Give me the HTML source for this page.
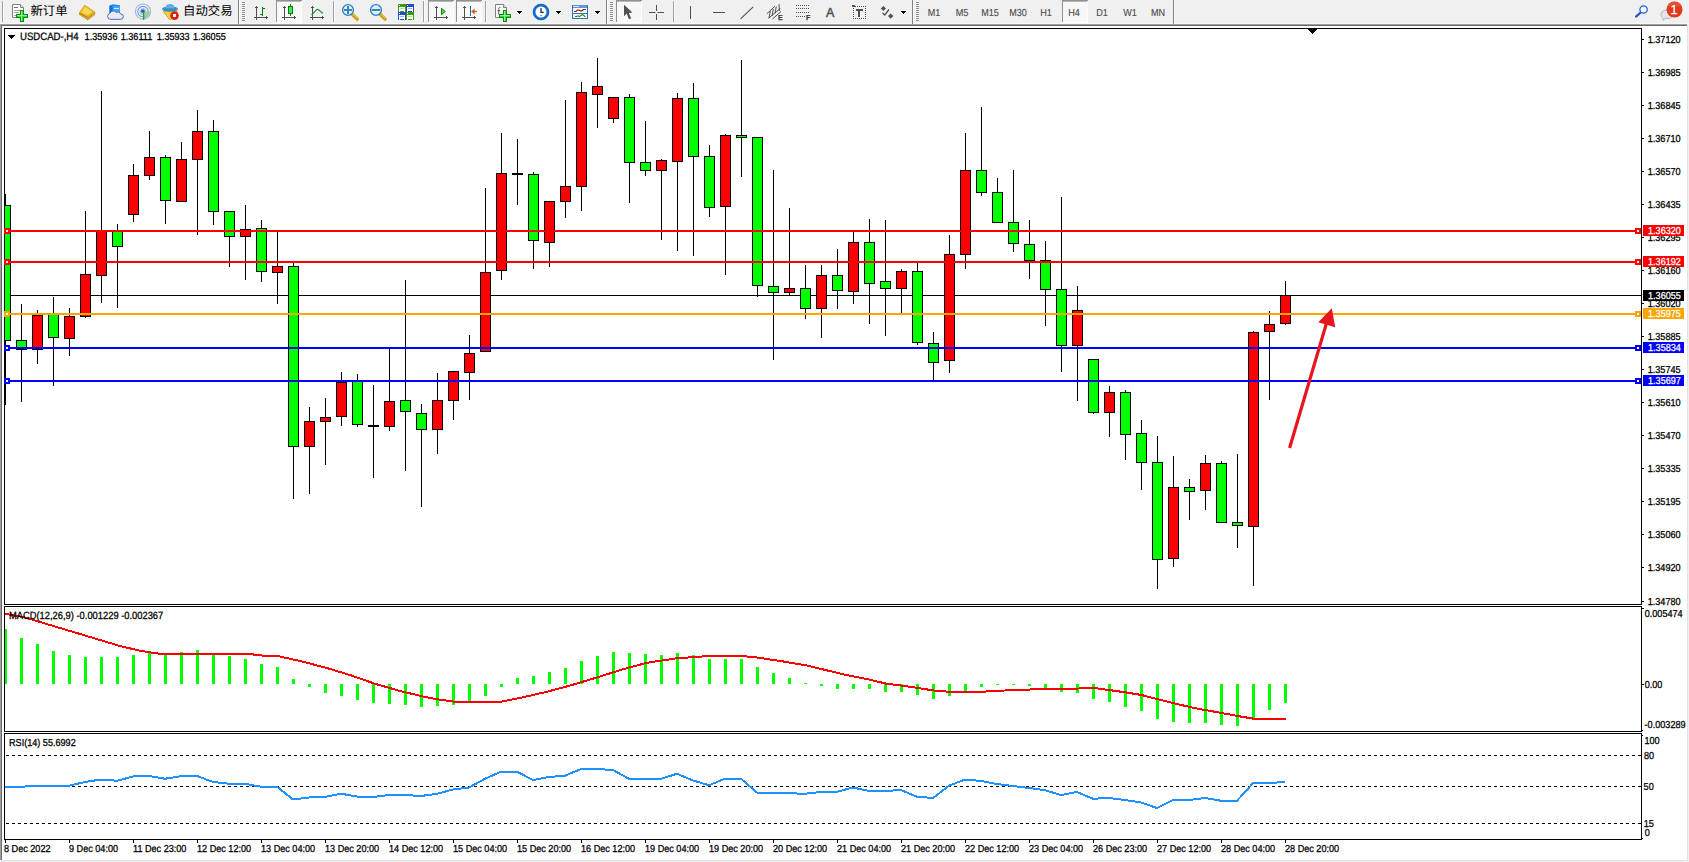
<!DOCTYPE html>
<html lang="zh"><head><meta charset="utf-8"><title>USDCAD-,H4</title><style>
html,body{margin:0;padding:0;width:1689px;height:862px;overflow:hidden;background:#fff}
body{position:relative;font-family:"Liberation Sans","Noto Sans CJK SC",sans-serif;color:#000}
svg{position:absolute;left:0;top:0}
.t{position:absolute;white-space:pre;line-height:12px;height:12px;margin-top:-5px;font-size:9.1px;transform:scaleY(1.115);transform-origin:0 50%;text-rendering:geometricPrecision;-webkit-text-stroke:0.25px}
.f9{font-size:9.1px}
.cj{font-size:12.4px;line-height:16px;height:16px;margin-top:-7px;transform:none;-webkit-text-stroke:0}
.tf{color:#4a4a4a;-webkit-text-stroke:0.1px}
.ic{transform:none;line-height:14px;height:14px;margin-top:-7px;text-rendering:auto}
.box{position:absolute;left:1643px;width:41px;height:11px}
</style></head><body>
<svg width="1689" height="862" viewBox="0 0 1689 862" shape-rendering="crispEdges">
<rect x="0" y="0" width="1689" height="862" fill="#ffffff"/>
<rect x="0" y="0" width="1689" height="23" fill="#f0f0f0"/>
<rect x="0" y="23" width="1689" height="1" fill="#f7f7f7"/>
<rect x="0" y="24" width="1688" height="1" fill="#a0a0a0"/>
<rect x="1" y="25" width="1687" height="1" fill="#696969"/>
<rect x="0" y="24" width="1" height="836" fill="#a0a0a0"/>
<rect x="1" y="25" width="1" height="835" fill="#696969"/>
<rect x="1687" y="24" width="2" height="838" fill="#f0f0f0"/>
<rect x="0" y="860" width="1689" height="2" fill="#f0f0f0"/>
<rect x="1687" y="25" width="1" height="835" fill="#e3e3e3"/>
<rect x="1" y="860" width="1687" height="1" fill="#e3e3e3"/>
<rect x="4" y="28" width="1638" height="1" fill="#000"/>
<rect x="4" y="604" width="1638" height="1" fill="#000"/>
<rect x="4" y="28" width="1" height="577" fill="#000"/>
<rect x="1641" y="28" width="1" height="577" fill="#000"/>
<rect x="4" y="606" width="1638" height="1" fill="#000"/>
<rect x="4" y="731" width="1638" height="1" fill="#000"/>
<rect x="4" y="606" width="1" height="126" fill="#000"/>
<rect x="1641" y="606" width="1" height="126" fill="#000"/>
<rect x="4" y="733" width="1638" height="1" fill="#000"/>
<rect x="4" y="839" width="1638" height="1" fill="#000"/>
<rect x="4" y="733" width="1" height="107" fill="#000"/>
<rect x="1641" y="733" width="1" height="107" fill="#000"/>
<rect x="1308" y="29" width="9" height="1" fill="#000"/>
<rect x="1309" y="30" width="7" height="1" fill="#000"/>
<rect x="1310" y="31" width="5" height="1" fill="#000"/>
<rect x="1311" y="32" width="3" height="1" fill="#000"/>
<rect x="1312" y="33" width="1" height="1" fill="#000"/>
<rect x="5" y="295" width="1636" height="1" fill="#000"/>
<rect x="5" y="194" width="1" height="211" fill="#000"/>
<rect x="5" y="205" width="6" height="136" fill="#000"/>
<rect x="5" y="206" width="5" height="134" fill="#00ff00"/>
<rect x="21" y="304" width="1" height="98" fill="#000"/>
<rect x="16" y="340" width="11" height="10" fill="#000"/>
<rect x="17" y="341" width="9" height="8" fill="#00ff00"/>
<rect x="37" y="310" width="1" height="54" fill="#000"/>
<rect x="32" y="315" width="11" height="35" fill="#000"/>
<rect x="33" y="316" width="9" height="33" fill="#ff0000"/>
<rect x="53" y="297" width="1" height="89" fill="#000"/>
<rect x="48" y="313" width="11" height="25" fill="#000"/>
<rect x="49" y="314" width="9" height="23" fill="#00ff00"/>
<rect x="69" y="308" width="1" height="48" fill="#000"/>
<rect x="64" y="316" width="11" height="23" fill="#000"/>
<rect x="65" y="317" width="9" height="21" fill="#ff0000"/>
<rect x="85" y="211" width="1" height="107" fill="#000"/>
<rect x="80" y="274" width="11" height="43" fill="#000"/>
<rect x="81" y="275" width="9" height="41" fill="#ff0000"/>
<rect x="101" y="91" width="1" height="212" fill="#000"/>
<rect x="96" y="231" width="11" height="45" fill="#000"/>
<rect x="97" y="232" width="9" height="43" fill="#ff0000"/>
<rect x="117" y="224" width="1" height="84" fill="#000"/>
<rect x="112" y="231" width="11" height="16" fill="#000"/>
<rect x="113" y="232" width="9" height="14" fill="#00ff00"/>
<rect x="133" y="164" width="1" height="58" fill="#000"/>
<rect x="128" y="175" width="11" height="40" fill="#000"/>
<rect x="129" y="176" width="9" height="38" fill="#ff0000"/>
<rect x="149" y="131" width="1" height="49" fill="#000"/>
<rect x="144" y="157" width="11" height="19" fill="#000"/>
<rect x="145" y="158" width="9" height="17" fill="#ff0000"/>
<rect x="165" y="155" width="1" height="69" fill="#000"/>
<rect x="160" y="157" width="11" height="44" fill="#000"/>
<rect x="161" y="158" width="9" height="42" fill="#00ff00"/>
<rect x="181" y="142" width="1" height="60" fill="#000"/>
<rect x="176" y="159" width="11" height="43" fill="#000"/>
<rect x="177" y="160" width="9" height="41" fill="#ff0000"/>
<rect x="197" y="110" width="1" height="125" fill="#000"/>
<rect x="192" y="131" width="11" height="29" fill="#000"/>
<rect x="193" y="132" width="9" height="27" fill="#ff0000"/>
<rect x="213" y="120" width="1" height="105" fill="#000"/>
<rect x="208" y="131" width="11" height="81" fill="#000"/>
<rect x="209" y="132" width="9" height="79" fill="#00ff00"/>
<rect x="229" y="212" width="1" height="55" fill="#000"/>
<rect x="224" y="211" width="11" height="26" fill="#000"/>
<rect x="225" y="212" width="9" height="24" fill="#00ff00"/>
<rect x="245" y="205" width="1" height="75" fill="#000"/>
<rect x="240" y="229" width="11" height="8" fill="#000"/>
<rect x="241" y="230" width="9" height="6" fill="#ff0000"/>
<rect x="261" y="220" width="1" height="62" fill="#000"/>
<rect x="256" y="228" width="11" height="44" fill="#000"/>
<rect x="257" y="229" width="9" height="42" fill="#00ff00"/>
<rect x="277" y="232" width="1" height="72" fill="#000"/>
<rect x="272" y="266" width="11" height="7" fill="#000"/>
<rect x="273" y="267" width="9" height="5" fill="#ff0000"/>
<rect x="293" y="263" width="1" height="236" fill="#000"/>
<rect x="288" y="266" width="11" height="181" fill="#000"/>
<rect x="289" y="267" width="9" height="179" fill="#00ff00"/>
<rect x="309" y="407" width="1" height="87" fill="#000"/>
<rect x="304" y="421" width="11" height="26" fill="#000"/>
<rect x="305" y="422" width="9" height="24" fill="#ff0000"/>
<rect x="325" y="398" width="1" height="67" fill="#000"/>
<rect x="320" y="417" width="11" height="5" fill="#000"/>
<rect x="321" y="418" width="9" height="3" fill="#ff0000"/>
<rect x="341" y="372" width="1" height="54" fill="#000"/>
<rect x="336" y="382" width="11" height="35" fill="#000"/>
<rect x="337" y="383" width="9" height="33" fill="#ff0000"/>
<rect x="357" y="374" width="1" height="53" fill="#000"/>
<rect x="352" y="381" width="11" height="44" fill="#000"/>
<rect x="353" y="382" width="9" height="42" fill="#00ff00"/>
<rect x="373" y="385" width="1" height="93" fill="#000"/>
<rect x="368" y="425" width="11" height="2" fill="#000"/>
<rect x="389" y="349" width="1" height="82" fill="#000"/>
<rect x="384" y="401" width="11" height="26" fill="#000"/>
<rect x="385" y="402" width="9" height="24" fill="#ff0000"/>
<rect x="405" y="280" width="1" height="191" fill="#000"/>
<rect x="400" y="400" width="11" height="12" fill="#000"/>
<rect x="401" y="401" width="9" height="10" fill="#00ff00"/>
<rect x="421" y="404" width="1" height="103" fill="#000"/>
<rect x="416" y="413" width="11" height="17" fill="#000"/>
<rect x="417" y="414" width="9" height="15" fill="#00ff00"/>
<rect x="437" y="373" width="1" height="81" fill="#000"/>
<rect x="432" y="400" width="11" height="30" fill="#000"/>
<rect x="433" y="401" width="9" height="28" fill="#ff0000"/>
<rect x="453" y="372" width="1" height="48" fill="#000"/>
<rect x="448" y="371" width="11" height="30" fill="#000"/>
<rect x="449" y="372" width="9" height="28" fill="#ff0000"/>
<rect x="469" y="335" width="1" height="65" fill="#000"/>
<rect x="464" y="353" width="11" height="20" fill="#000"/>
<rect x="465" y="354" width="9" height="18" fill="#ff0000"/>
<rect x="485" y="188" width="1" height="164" fill="#000"/>
<rect x="480" y="272" width="11" height="80" fill="#000"/>
<rect x="481" y="273" width="9" height="78" fill="#ff0000"/>
<rect x="501" y="133" width="1" height="147" fill="#000"/>
<rect x="496" y="173" width="11" height="98" fill="#000"/>
<rect x="497" y="174" width="9" height="96" fill="#ff0000"/>
<rect x="517" y="139" width="1" height="66" fill="#000"/>
<rect x="512" y="173" width="11" height="2" fill="#000"/>
<rect x="533" y="172" width="1" height="97" fill="#000"/>
<rect x="528" y="174" width="11" height="67" fill="#000"/>
<rect x="529" y="175" width="9" height="65" fill="#00ff00"/>
<rect x="549" y="201" width="1" height="66" fill="#000"/>
<rect x="544" y="201" width="11" height="42" fill="#000"/>
<rect x="545" y="202" width="9" height="40" fill="#ff0000"/>
<rect x="565" y="100" width="1" height="118" fill="#000"/>
<rect x="560" y="186" width="11" height="16" fill="#000"/>
<rect x="561" y="187" width="9" height="14" fill="#ff0000"/>
<rect x="581" y="82" width="1" height="129" fill="#000"/>
<rect x="576" y="92" width="11" height="95" fill="#000"/>
<rect x="577" y="93" width="9" height="93" fill="#ff0000"/>
<rect x="597" y="58" width="1" height="70" fill="#000"/>
<rect x="592" y="86" width="11" height="9" fill="#000"/>
<rect x="593" y="87" width="9" height="7" fill="#ff0000"/>
<rect x="613" y="97" width="1" height="26" fill="#000"/>
<rect x="608" y="97" width="11" height="22" fill="#000"/>
<rect x="609" y="98" width="9" height="20" fill="#ff0000"/>
<rect x="629" y="94" width="1" height="109" fill="#000"/>
<rect x="624" y="97" width="11" height="66" fill="#000"/>
<rect x="625" y="98" width="9" height="64" fill="#00ff00"/>
<rect x="645" y="121" width="1" height="55" fill="#000"/>
<rect x="640" y="162" width="11" height="9" fill="#000"/>
<rect x="641" y="163" width="9" height="7" fill="#00ff00"/>
<rect x="661" y="159" width="1" height="81" fill="#000"/>
<rect x="656" y="160" width="11" height="11" fill="#000"/>
<rect x="657" y="161" width="9" height="9" fill="#ff0000"/>
<rect x="677" y="93" width="1" height="158" fill="#000"/>
<rect x="672" y="98" width="11" height="64" fill="#000"/>
<rect x="673" y="99" width="9" height="62" fill="#ff0000"/>
<rect x="693" y="83" width="1" height="173" fill="#000"/>
<rect x="688" y="98" width="11" height="59" fill="#000"/>
<rect x="689" y="99" width="9" height="57" fill="#00ff00"/>
<rect x="709" y="145" width="1" height="72" fill="#000"/>
<rect x="704" y="156" width="11" height="52" fill="#000"/>
<rect x="705" y="157" width="9" height="50" fill="#00ff00"/>
<rect x="725" y="134" width="1" height="141" fill="#000"/>
<rect x="720" y="135" width="11" height="72" fill="#000"/>
<rect x="721" y="136" width="9" height="70" fill="#ff0000"/>
<rect x="741" y="60" width="1" height="117" fill="#000"/>
<rect x="736" y="135" width="11" height="3" fill="#000"/>
<rect x="737" y="136" width="9" height="1" fill="#00ff00"/>
<rect x="757" y="138" width="1" height="159" fill="#000"/>
<rect x="752" y="137" width="11" height="149" fill="#000"/>
<rect x="753" y="138" width="9" height="147" fill="#00ff00"/>
<rect x="773" y="170" width="1" height="190" fill="#000"/>
<rect x="768" y="286" width="11" height="7" fill="#000"/>
<rect x="769" y="287" width="9" height="5" fill="#00ff00"/>
<rect x="789" y="208" width="1" height="87" fill="#000"/>
<rect x="784" y="288" width="11" height="5" fill="#000"/>
<rect x="785" y="289" width="9" height="3" fill="#ff0000"/>
<rect x="805" y="265" width="1" height="54" fill="#000"/>
<rect x="800" y="288" width="11" height="21" fill="#000"/>
<rect x="801" y="289" width="9" height="19" fill="#00ff00"/>
<rect x="821" y="265" width="1" height="73" fill="#000"/>
<rect x="816" y="275" width="11" height="34" fill="#000"/>
<rect x="817" y="276" width="9" height="32" fill="#ff0000"/>
<rect x="837" y="249" width="1" height="60" fill="#000"/>
<rect x="832" y="275" width="11" height="16" fill="#000"/>
<rect x="833" y="276" width="9" height="14" fill="#00ff00"/>
<rect x="853" y="232" width="1" height="72" fill="#000"/>
<rect x="848" y="242" width="11" height="50" fill="#000"/>
<rect x="849" y="243" width="9" height="48" fill="#ff0000"/>
<rect x="869" y="219" width="1" height="105" fill="#000"/>
<rect x="864" y="242" width="11" height="42" fill="#000"/>
<rect x="865" y="243" width="9" height="40" fill="#00ff00"/>
<rect x="885" y="220" width="1" height="116" fill="#000"/>
<rect x="880" y="281" width="11" height="8" fill="#000"/>
<rect x="881" y="282" width="9" height="6" fill="#00ff00"/>
<rect x="901" y="269" width="1" height="44" fill="#000"/>
<rect x="896" y="271" width="11" height="18" fill="#000"/>
<rect x="897" y="272" width="9" height="16" fill="#ff0000"/>
<rect x="917" y="263" width="1" height="82" fill="#000"/>
<rect x="912" y="271" width="11" height="72" fill="#000"/>
<rect x="913" y="272" width="9" height="70" fill="#00ff00"/>
<rect x="933" y="332" width="1" height="48" fill="#000"/>
<rect x="928" y="343" width="11" height="20" fill="#000"/>
<rect x="929" y="344" width="9" height="18" fill="#00ff00"/>
<rect x="949" y="235" width="1" height="138" fill="#000"/>
<rect x="944" y="254" width="11" height="107" fill="#000"/>
<rect x="945" y="255" width="9" height="105" fill="#ff0000"/>
<rect x="965" y="133" width="1" height="136" fill="#000"/>
<rect x="960" y="170" width="11" height="85" fill="#000"/>
<rect x="961" y="171" width="9" height="83" fill="#ff0000"/>
<rect x="981" y="107" width="1" height="89" fill="#000"/>
<rect x="976" y="170" width="11" height="23" fill="#000"/>
<rect x="977" y="171" width="9" height="21" fill="#00ff00"/>
<rect x="997" y="178" width="1" height="45" fill="#000"/>
<rect x="992" y="192" width="11" height="31" fill="#000"/>
<rect x="993" y="193" width="9" height="29" fill="#00ff00"/>
<rect x="1013" y="170" width="1" height="82" fill="#000"/>
<rect x="1008" y="222" width="11" height="22" fill="#000"/>
<rect x="1009" y="223" width="9" height="20" fill="#00ff00"/>
<rect x="1029" y="220" width="1" height="59" fill="#000"/>
<rect x="1024" y="244" width="11" height="17" fill="#000"/>
<rect x="1025" y="245" width="9" height="15" fill="#00ff00"/>
<rect x="1045" y="241" width="1" height="85" fill="#000"/>
<rect x="1040" y="260" width="11" height="30" fill="#000"/>
<rect x="1041" y="261" width="9" height="28" fill="#00ff00"/>
<rect x="1061" y="197" width="1" height="175" fill="#000"/>
<rect x="1056" y="289" width="11" height="57" fill="#000"/>
<rect x="1057" y="290" width="9" height="55" fill="#00ff00"/>
<rect x="1077" y="286" width="1" height="115" fill="#000"/>
<rect x="1072" y="310" width="11" height="36" fill="#000"/>
<rect x="1073" y="311" width="9" height="34" fill="#ff0000"/>
<rect x="1093" y="360" width="1" height="54" fill="#000"/>
<rect x="1088" y="359" width="11" height="54" fill="#000"/>
<rect x="1089" y="360" width="9" height="52" fill="#00ff00"/>
<rect x="1109" y="386" width="1" height="51" fill="#000"/>
<rect x="1104" y="392" width="11" height="21" fill="#000"/>
<rect x="1105" y="393" width="9" height="19" fill="#ff0000"/>
<rect x="1125" y="390" width="1" height="70" fill="#000"/>
<rect x="1120" y="392" width="11" height="43" fill="#000"/>
<rect x="1121" y="393" width="9" height="41" fill="#00ff00"/>
<rect x="1141" y="420" width="1" height="70" fill="#000"/>
<rect x="1136" y="433" width="11" height="30" fill="#000"/>
<rect x="1137" y="434" width="9" height="28" fill="#00ff00"/>
<rect x="1157" y="436" width="1" height="153" fill="#000"/>
<rect x="1152" y="462" width="11" height="98" fill="#000"/>
<rect x="1153" y="463" width="9" height="96" fill="#00ff00"/>
<rect x="1173" y="456" width="1" height="111" fill="#000"/>
<rect x="1168" y="487" width="11" height="72" fill="#000"/>
<rect x="1169" y="488" width="9" height="70" fill="#ff0000"/>
<rect x="1189" y="479" width="1" height="41" fill="#000"/>
<rect x="1184" y="487" width="11" height="5" fill="#000"/>
<rect x="1185" y="488" width="9" height="3" fill="#00ff00"/>
<rect x="1205" y="455" width="1" height="55" fill="#000"/>
<rect x="1200" y="463" width="11" height="28" fill="#000"/>
<rect x="1201" y="464" width="9" height="26" fill="#ff0000"/>
<rect x="1221" y="461" width="1" height="62" fill="#000"/>
<rect x="1216" y="463" width="11" height="60" fill="#000"/>
<rect x="1217" y="464" width="9" height="58" fill="#00ff00"/>
<rect x="1237" y="454" width="1" height="94" fill="#000"/>
<rect x="1232" y="522" width="11" height="4" fill="#000"/>
<rect x="1233" y="523" width="9" height="2" fill="#00ff00"/>
<rect x="1253" y="331" width="1" height="255" fill="#000"/>
<rect x="1248" y="332" width="11" height="195" fill="#000"/>
<rect x="1249" y="333" width="9" height="193" fill="#ff0000"/>
<rect x="1269" y="311" width="1" height="89" fill="#000"/>
<rect x="1264" y="324" width="11" height="8" fill="#000"/>
<rect x="1265" y="325" width="9" height="6" fill="#ff0000"/>
<rect x="1285" y="281" width="1" height="44" fill="#000"/>
<rect x="1280" y="295" width="11" height="29" fill="#000"/>
<rect x="1281" y="296" width="9" height="27" fill="#ff0000"/>
<rect x="5" y="230" width="1636" height="2" fill="#ff0000"/>
<rect x="5" y="261" width="1636" height="2" fill="#ff0000"/>
<rect x="5" y="313" width="1636" height="2" fill="#ffa500"/>
<rect x="5" y="347" width="1636" height="2" fill="#0000ff"/>
<rect x="5" y="380" width="1636" height="2" fill="#0000ff"/>
<rect x="4" y="228" width="6" height="6" fill="#ff0000"/>
<rect x="6" y="230" width="2" height="2" fill="#fff"/>
<rect x="1635" y="228" width="6" height="6" fill="#ff0000"/>
<rect x="1637" y="230" width="2" height="2" fill="#fff"/>
<rect x="4" y="259" width="6" height="6" fill="#ff0000"/>
<rect x="6" y="261" width="2" height="2" fill="#fff"/>
<rect x="1635" y="259" width="6" height="6" fill="#ff0000"/>
<rect x="1637" y="261" width="2" height="2" fill="#fff"/>
<rect x="4" y="311" width="6" height="6" fill="#ffa500"/>
<rect x="6" y="313" width="2" height="2" fill="#fff"/>
<rect x="1635" y="311" width="6" height="6" fill="#ffa500"/>
<rect x="1637" y="313" width="2" height="2" fill="#fff"/>
<rect x="4" y="345" width="6" height="6" fill="#0000ff"/>
<rect x="6" y="347" width="2" height="2" fill="#fff"/>
<rect x="1635" y="345" width="6" height="6" fill="#0000ff"/>
<rect x="1637" y="347" width="2" height="2" fill="#fff"/>
<rect x="4" y="378" width="6" height="6" fill="#0000ff"/>
<rect x="6" y="380" width="2" height="2" fill="#fff"/>
<rect x="1635" y="378" width="6" height="6" fill="#0000ff"/>
<rect x="1637" y="380" width="2" height="2" fill="#fff"/>
<g shape-rendering="geometricPrecision"><line x1="1289.6" y1="448" x2="1326.4" y2="323.5" stroke="#e8141e" stroke-width="3.2"/></g>
<g shape-rendering="geometricPrecision"><polygon points="1331.8,308.2 1318.3,322.2 1335.2,327.2" fill="#e8141e"/></g>
<rect x="1642" y="39" width="2" height="1" fill="#000"/>
<rect x="1642" y="72" width="2" height="1" fill="#000"/>
<rect x="1642" y="105" width="2" height="1" fill="#000"/>
<rect x="1642" y="138" width="2" height="1" fill="#000"/>
<rect x="1642" y="171" width="2" height="1" fill="#000"/>
<rect x="1642" y="204" width="2" height="1" fill="#000"/>
<rect x="1642" y="237" width="2" height="1" fill="#000"/>
<rect x="1642" y="270" width="2" height="1" fill="#000"/>
<rect x="1642" y="303" width="2" height="1" fill="#000"/>
<rect x="1642" y="336" width="2" height="1" fill="#000"/>
<rect x="1642" y="369" width="2" height="1" fill="#000"/>
<rect x="1642" y="402" width="2" height="1" fill="#000"/>
<rect x="1642" y="435" width="2" height="1" fill="#000"/>
<rect x="1642" y="468" width="2" height="1" fill="#000"/>
<rect x="1642" y="501" width="2" height="1" fill="#000"/>
<rect x="1642" y="534" width="2" height="1" fill="#000"/>
<rect x="1642" y="567" width="2" height="1" fill="#000"/>
<rect x="1642" y="601" width="2" height="1" fill="#000"/>
<rect x="5" y="629" width="2" height="55" fill="#00ff00"/>
<rect x="20" y="638" width="3" height="46" fill="#00ff00"/>
<rect x="36" y="644" width="3" height="40" fill="#00ff00"/>
<rect x="52" y="651" width="3" height="33" fill="#00ff00"/>
<rect x="68" y="655" width="3" height="29" fill="#00ff00"/>
<rect x="84" y="657" width="3" height="27" fill="#00ff00"/>
<rect x="100" y="657" width="3" height="27" fill="#00ff00"/>
<rect x="116" y="657" width="3" height="27" fill="#00ff00"/>
<rect x="132" y="655" width="3" height="29" fill="#00ff00"/>
<rect x="148" y="653" width="3" height="31" fill="#00ff00"/>
<rect x="164" y="654" width="3" height="30" fill="#00ff00"/>
<rect x="180" y="652" width="3" height="32" fill="#00ff00"/>
<rect x="196" y="650" width="3" height="34" fill="#00ff00"/>
<rect x="212" y="654" width="3" height="30" fill="#00ff00"/>
<rect x="228" y="656" width="3" height="28" fill="#00ff00"/>
<rect x="244" y="659" width="3" height="25" fill="#00ff00"/>
<rect x="260" y="664" width="3" height="20" fill="#00ff00"/>
<rect x="276" y="667" width="3" height="17" fill="#00ff00"/>
<rect x="292" y="679" width="3" height="5" fill="#00ff00"/>
<rect x="308" y="684" width="3" height="3" fill="#00ff00"/>
<rect x="324" y="684" width="3" height="9" fill="#00ff00"/>
<rect x="340" y="684" width="3" height="12" fill="#00ff00"/>
<rect x="356" y="684" width="3" height="16" fill="#00ff00"/>
<rect x="372" y="684" width="3" height="19" fill="#00ff00"/>
<rect x="388" y="684" width="3" height="20" fill="#00ff00"/>
<rect x="404" y="684" width="3" height="21" fill="#00ff00"/>
<rect x="420" y="684" width="3" height="23" fill="#00ff00"/>
<rect x="436" y="684" width="3" height="22" fill="#00ff00"/>
<rect x="452" y="684" width="3" height="21" fill="#00ff00"/>
<rect x="468" y="684" width="3" height="17" fill="#00ff00"/>
<rect x="484" y="684" width="3" height="12" fill="#00ff00"/>
<rect x="500" y="684" width="3" height="3" fill="#00ff00"/>
<rect x="516" y="678" width="3" height="6" fill="#00ff00"/>
<rect x="532" y="676" width="3" height="8" fill="#00ff00"/>
<rect x="548" y="672" width="3" height="12" fill="#00ff00"/>
<rect x="564" y="668" width="3" height="16" fill="#00ff00"/>
<rect x="580" y="661" width="3" height="23" fill="#00ff00"/>
<rect x="596" y="656" width="3" height="28" fill="#00ff00"/>
<rect x="612" y="652" width="3" height="32" fill="#00ff00"/>
<rect x="628" y="653" width="3" height="31" fill="#00ff00"/>
<rect x="644" y="654" width="3" height="30" fill="#00ff00"/>
<rect x="660" y="655" width="3" height="29" fill="#00ff00"/>
<rect x="676" y="653" width="3" height="31" fill="#00ff00"/>
<rect x="692" y="655" width="3" height="29" fill="#00ff00"/>
<rect x="708" y="659" width="3" height="25" fill="#00ff00"/>
<rect x="724" y="659" width="3" height="25" fill="#00ff00"/>
<rect x="740" y="659" width="3" height="25" fill="#00ff00"/>
<rect x="756" y="667" width="3" height="17" fill="#00ff00"/>
<rect x="772" y="673" width="3" height="11" fill="#00ff00"/>
<rect x="788" y="678" width="3" height="6" fill="#00ff00"/>
<rect x="804" y="683" width="3" height="1" fill="#00ff00"/>
<rect x="820" y="684" width="3" height="2" fill="#00ff00"/>
<rect x="836" y="684" width="3" height="5" fill="#00ff00"/>
<rect x="852" y="684" width="3" height="5" fill="#00ff00"/>
<rect x="868" y="684" width="3" height="5" fill="#00ff00"/>
<rect x="884" y="684" width="3" height="8" fill="#00ff00"/>
<rect x="900" y="684" width="3" height="8" fill="#00ff00"/>
<rect x="916" y="684" width="3" height="11" fill="#00ff00"/>
<rect x="932" y="684" width="3" height="15" fill="#00ff00"/>
<rect x="948" y="684" width="3" height="12" fill="#00ff00"/>
<rect x="964" y="684" width="3" height="7" fill="#00ff00"/>
<rect x="980" y="684" width="3" height="3" fill="#00ff00"/>
<rect x="996" y="684" width="3" height="1" fill="#00ff00"/>
<rect x="1012" y="684" width="3" height="1" fill="#00ff00"/>
<rect x="1028" y="684" width="3" height="2" fill="#00ff00"/>
<rect x="1044" y="684" width="3" height="4" fill="#00ff00"/>
<rect x="1060" y="684" width="3" height="8" fill="#00ff00"/>
<rect x="1076" y="684" width="3" height="9" fill="#00ff00"/>
<rect x="1092" y="684" width="3" height="15" fill="#00ff00"/>
<rect x="1108" y="684" width="3" height="18" fill="#00ff00"/>
<rect x="1124" y="684" width="3" height="23" fill="#00ff00"/>
<rect x="1140" y="684" width="3" height="27" fill="#00ff00"/>
<rect x="1156" y="684" width="3" height="35" fill="#00ff00"/>
<rect x="1172" y="684" width="3" height="38" fill="#00ff00"/>
<rect x="1188" y="684" width="3" height="39" fill="#00ff00"/>
<rect x="1204" y="684" width="3" height="39" fill="#00ff00"/>
<rect x="1220" y="684" width="3" height="41" fill="#00ff00"/>
<rect x="1236" y="684" width="3" height="42" fill="#00ff00"/>
<rect x="1252" y="684" width="3" height="34" fill="#00ff00"/>
<rect x="1268" y="684" width="3" height="26" fill="#00ff00"/>
<rect x="1284" y="684" width="3" height="19" fill="#00ff00"/>
<polyline points="5,613.75 25,617.5 50,625 75,632.5 100,640 120,646 140,650.75 157.5,653.5 245,653.5 262,655.5 277.5,656 300,661 325,667.5 350,675 375,683.75 400,691 422,696.25 437,699.25 454.5,701.75 500.75,701.75 522,697.5 547,691.75 572,685 597,677.5 622,669.5 647,662.75 677,658.25 709.5,656 742,656 757,657.5 782,661.25 807,665.5 844,674.5 869,679.5 886.5,683.75 906.5,686.25 934,690.5 951.5,692 981.5,691.75 1014,690 1046.5,689 1079,688.5 1094,688 1109,690 1126.5,692.5 1141.5,695 1159,699.5 1174,703.25 1194,708 1219,712.5 1239,716.25 1254,718.75 1286,718.75" fill="none" stroke="#ff0000" stroke-width="2" stroke-linejoin="round"/>
<rect x="1642" y="684" width="2" height="1" fill="#000"/>
<rect x="1642" y="608" width="2" height="1" fill="#000"/>
<rect x="1642" y="730" width="1" height="1" fill="#000"/>
<rect x="1642" y="735" width="1" height="1" fill="#000"/>
<rect x="1642" y="838" width="1" height="1" fill="#000"/>
<line x1="6" y1="755.5" x2="1641" y2="755.5" stroke="#000" stroke-width="1" stroke-dasharray="3,3"/>
<line x1="6" y1="786.5" x2="1641" y2="786.5" stroke="#000" stroke-width="1" stroke-dasharray="3,3"/>
<line x1="6" y1="823.5" x2="1641" y2="823.5" stroke="#000" stroke-width="1" stroke-dasharray="3,3"/>
<polyline points="5,786.75 21,786.75 37,785.75 53,785.75 69,785.75 85,782 101,779.5 117,780.75 133,776.5 149,776 165,778.75 181,776.25 197,776 213,782 229,783.75 245,783.75 261,786.75 277,786.75 293,799.5 309,797.5 325,797 341,793.75 357,796.5 373,797 389,795 405,795 421,796 437,793.75 453,789.5 469,787.5 485,778.75 501,771.75 517,771.75 533,780 549,777 565,775.75 581,769 597,769 613,770 629,778.75 645,778.75 661,778.75 677,773.75 693,780.5 709,785.25 725,778.75 741,778.75 757,792.5 773,792.5 789,793.25 805,793.75 821,792 837,791.75 853,787.5 869,791 885,791 901,790 917,796.75 933,798 949,785.75 965,779.5 981,781 997,784 1013,786 1029,788 1045,790.25 1061,795 1077,792 1093,798.75 1109,798 1125,800 1141,802.5 1157,808 1173,800 1189,800 1205,798 1221,800.75 1237,800.75 1253,783.25 1269,783 1285,782" fill="none" stroke="#1e90ff" stroke-width="2" stroke-linejoin="round"/>
<rect x="5" y="840" width="1" height="3" fill="#000"/>
<rect x="69" y="840" width="1" height="3" fill="#000"/>
<rect x="133" y="840" width="1" height="3" fill="#000"/>
<rect x="197" y="840" width="1" height="3" fill="#000"/>
<rect x="261" y="840" width="1" height="3" fill="#000"/>
<rect x="325" y="840" width="1" height="3" fill="#000"/>
<rect x="389" y="840" width="1" height="3" fill="#000"/>
<rect x="453" y="840" width="1" height="3" fill="#000"/>
<rect x="517" y="840" width="1" height="3" fill="#000"/>
<rect x="581" y="840" width="1" height="3" fill="#000"/>
<rect x="645" y="840" width="1" height="3" fill="#000"/>
<rect x="709" y="840" width="1" height="3" fill="#000"/>
<rect x="773" y="840" width="1" height="3" fill="#000"/>
<rect x="837" y="840" width="1" height="3" fill="#000"/>
<rect x="901" y="840" width="1" height="3" fill="#000"/>
<rect x="965" y="840" width="1" height="3" fill="#000"/>
<rect x="1029" y="840" width="1" height="3" fill="#000"/>
<rect x="1093" y="840" width="1" height="3" fill="#000"/>
<rect x="1157" y="840" width="1" height="3" fill="#000"/>
<rect x="1221" y="840" width="1" height="3" fill="#000"/>
<rect x="1285" y="840" width="1" height="3" fill="#000"/>
<rect x="8" y="35" width="7" height="1" fill="#000"/>
<rect x="9" y="36" width="5" height="1" fill="#000"/>
<rect x="10" y="37" width="3" height="1" fill="#000"/>
<rect x="11" y="38" width="1" height="1" fill="#000"/>
<rect x="2" y="1" width="1" height="21" fill="#a0a0a0"/>
<rect x="3" y="1" width="1" height="21" fill="#fbfbfb"/>
<g shape-rendering="geometricPrecision"><path d="M12.5 4.5h8l3 3v10h-11z" fill="#fff" stroke="#808080"/></g>
<g shape-rendering="geometricPrecision"><path d="M20.5 4.5v3h3" fill="#e8e8e8" stroke="#808080"/></g>
<rect x="14" y="7" width="4" height="1" fill="#707070"/>
<rect x="14" y="10" width="7" height="1" fill="#a0a0a0"/>
<rect x="14" y="12" width="5" height="1" fill="#a0a0a0"/>
<rect x="14" y="15" width="3" height="1" fill="#a0a0a0"/>
<rect x="16" y="14" width="12" height="4" fill="#0c8c0c"/>
<rect x="20" y="10" width="4" height="12" fill="#0c8c0c"/>
<rect x="17" y="15" width="10" height="2" fill="#2fe03a"/>
<rect x="21" y="11" width="2" height="10" fill="#2fe03a"/>
<rect x="17" y="15" width="10" height="1" fill="#8cf58c"/>
<rect x="21" y="11" width="1" height="10" fill="#8cf58c"/>
<g shape-rendering="geometricPrecision"><path d="M84.7 4.9 L95.3 12.2 L95 14.8 L87.8 20.2 L79 14.8 L79.2 12.8 Z" fill="#b07a0c"/></g>
<g shape-rendering="geometricPrecision"><path d="M84.7 4.9 L95.3 12.2 L88.4 17.6 L79.2 12.8 Z" fill="#e6b01c"/></g>
<g shape-rendering="geometricPrecision"><path d="M85 6.6 L92.4 11.8 L87.8 15.4 L81.2 12.2 Z" fill="#f8d84e"/></g>
<g shape-rendering="geometricPrecision"><path d="M79.4 14.4 L88 19 L94.9 13.8" fill="none" stroke="#e6c468" stroke-width="0.9"/></g>
<g shape-rendering="geometricPrecision"><path d="M109.5 5.5 L113 4.2 L120 5.2 L120 13.5 L109.5 13.5 Z" fill="#1f8ff2"/></g>
<g shape-rendering="geometricPrecision"><path d="M112.5 6.2 L120 6 L120 13.5 L112.5 13.5 Z" fill="#3ea6ff"/></g>
<g shape-rendering="geometricPrecision"><path d="M109.5 5.5 L112.5 6.2 L112.5 13.5 L109.5 13.5 Z" fill="#0f6fd8"/></g>
<rect x="114" y="8" width="5" height="1" fill="#d8ecff"/>
<g shape-rendering="geometricPrecision"><path d="M110 19.3 a3 3 0 0 1 -0.3 -5.8 a4 4 0 0 1 6.6 -1.2 a3.2 3.2 0 0 1 4.4 1.6 a2.7 2.7 0 0 1 -0.2 5.4 Z" fill="#e6ebf4" stroke="#4f6ca8" stroke-width="1"/></g>
<g shape-rendering="geometricPrecision"><circle cx="143" cy="11.6" r="7.6" fill="none" stroke="#9db7e8" stroke-width="1.1"/></g>
<g shape-rendering="geometricPrecision"><circle cx="143" cy="11.6" r="5.2" fill="none" stroke="#7a9be0" stroke-width="1.1"/></g>
<g shape-rendering="geometricPrecision"><circle cx="143" cy="11.6" r="3" fill="none" stroke="#9db7e8" stroke-width="1"/></g>
<g shape-rendering="geometricPrecision"><path d="M143 11.6 L150.4 11.6 A7.6 7.6 0 0 1 143 19.4 Z" fill="#8fcf8f" opacity="0.75"/></g>
<g shape-rendering="geometricPrecision"><path d="M143.3 4 A7.6 7.6 0 0 1 150.6 11.6" fill="none" stroke="#a8cfa8" stroke-width="1.1"/></g>
<g shape-rendering="geometricPrecision"><circle cx="142.8" cy="11.2" r="1.9" fill="#2a5fd0"/></g>
<g shape-rendering="geometricPrecision"><path d="M143.6 12 V19.6" stroke="#22a022" stroke-width="1.4"/></g>
<g shape-rendering="geometricPrecision"><path d="M163 11 L177.4 11 L173 17.5 L170 20 Z" fill="#f4d13c" stroke="#c49a0a" stroke-width="0.8"/></g>
<g shape-rendering="geometricPrecision"><ellipse cx="170" cy="9" rx="8" ry="2.8" fill="#3f97cf"/></g>
<g shape-rendering="geometricPrecision"><ellipse cx="170" cy="7.2" rx="4.2" ry="3.2" fill="#5fb0e4"/></g>
<g shape-rendering="geometricPrecision"><ellipse cx="170" cy="9.6" rx="6.5" ry="1.6" fill="#2f7fb4" opacity="0.6"/></g>
<g shape-rendering="geometricPrecision"><circle cx="174.5" cy="15.6" r="4.3" fill="#e02010"/></g>
<rect x="173" y="14" width="3" height="3" fill="#ffffff"/>
<rect x="238" y="0" width="1" height="24" fill="#808080"/>
<rect x="239" y="0" width="1" height="24" fill="#fbfbfb"/>
<rect x="242" y="2" width="3" height="1" fill="#909090"/>
<rect x="242" y="4" width="3" height="1" fill="#909090"/>
<rect x="242" y="6" width="3" height="1" fill="#909090"/>
<rect x="242" y="8" width="3" height="1" fill="#909090"/>
<rect x="242" y="10" width="3" height="1" fill="#909090"/>
<rect x="242" y="12" width="3" height="1" fill="#909090"/>
<rect x="242" y="14" width="3" height="1" fill="#909090"/>
<rect x="242" y="16" width="3" height="1" fill="#909090"/>
<rect x="242" y="18" width="3" height="1" fill="#909090"/>
<rect x="242" y="20" width="3" height="1" fill="#909090"/>
<rect x="256" y="6" width="1" height="14" fill="#505050"/>
<rect x="254" y="17" width="14" height="1" fill="#505050"/>
<rect x="255" y="7" width="3" height="1" fill="#505050"/>
<rect x="266" y="16" width="1" height="3" fill="#505050"/>
<rect x="262" y="7" width="1" height="9" fill="#008000"/>
<rect x="263" y="8" width="2" height="1" fill="#008000"/>
<rect x="260" y="14" width="2" height="1" fill="#008000"/>
<rect x="276" y="0" width="26" height="23" fill="#f8f8f8"/>
<rect x="276" y="0" width="1" height="23" fill="#909090"/>
<rect x="276" y="0" width="26" height="1" fill="#909090"/>
<rect x="277" y="1" width="25" height="1" fill="#b8b8b8"/>
<rect x="301" y="1" width="1" height="22" fill="#ffffff"/>
<rect x="276" y="22" width="26" height="1" fill="#ffffff"/>
<rect x="284" y="6" width="1" height="14" fill="#505050"/>
<rect x="282" y="17" width="14" height="1" fill="#505050"/>
<rect x="283" y="7" width="3" height="1" fill="#505050"/>
<rect x="294" y="16" width="1" height="3" fill="#505050"/>
<rect x="290" y="4" width="1" height="12" fill="#008000"/>
<rect x="288" y="6" width="5" height="8" fill="#008000"/>
<rect x="289" y="7" width="3" height="6" fill="#3ee85a"/>
<rect x="312" y="6" width="1" height="14" fill="#505050"/>
<rect x="310" y="17" width="14" height="1" fill="#505050"/>
<rect x="311" y="7" width="3" height="1" fill="#505050"/>
<rect x="322" y="16" width="1" height="3" fill="#505050"/>
<g shape-rendering="geometricPrecision"><path d="M311.5 14.8 C314 13.5 315.5 9.3 317.5 9.3 C319.5 9.3 320.5 12.5 323 13.2" fill="none" stroke="#1f8f2f" stroke-width="1.2"/></g>
<rect x="333" y="1" width="1" height="21" fill="#a0a0a0"/>
<rect x="334" y="1" width="1" height="21" fill="#fbfbfb"/>
<g shape-rendering="geometricPrecision"><path d="M352 14 L357.2 19.2" stroke="#c99a10" stroke-width="3.2" stroke-linecap="round"/></g>
<g shape-rendering="geometricPrecision"><path d="M352.4 13.6 L357 18.2" stroke="#f0dc60" stroke-width="1"/></g>
<g shape-rendering="geometricPrecision"><circle cx="348" cy="10" r="5.4" fill="#dff2ff" stroke="#2f7fd0" stroke-width="1.4"/></g>
<rect x="344" y="9" width="8" height="2" fill="#3a86b0"/>
<rect x="347" y="6" width="2" height="8" fill="#3a86b0"/>
<g shape-rendering="geometricPrecision"><path d="M380 14 L385.2 19.2" stroke="#c99a10" stroke-width="3.2" stroke-linecap="round"/></g>
<g shape-rendering="geometricPrecision"><path d="M380.4 13.6 L385 18.2" stroke="#f0dc60" stroke-width="1"/></g>
<g shape-rendering="geometricPrecision"><circle cx="376" cy="10" r="5.4" fill="#dff2ff" stroke="#2f7fd0" stroke-width="1.4"/></g>
<rect x="372" y="9" width="8" height="2" fill="#3a86b0"/>
<rect x="398" y="4" width="8" height="8" fill="#3a9a14"/>
<rect x="406" y="4" width="8" height="8" fill="#1f4fc8"/>
<rect x="398" y="12" width="8" height="8" fill="#1f4fc8"/>
<rect x="406" y="12" width="8" height="8" fill="#3a9a14"/>
<rect x="399" y="7" width="6" height="4" fill="#ffffff"/>
<rect x="400" y="8" width="4" height="1" fill="#a8e08c"/>
<rect x="399" y="5" width="1" height="1" fill="#ffffff"/>
<rect x="399" y="11" width="1" height="1" fill="#ffffff"/>
<rect x="404" y="11" width="1" height="1" fill="#ffffff"/>
<rect x="407" y="7" width="6" height="4" fill="#ffffff"/>
<rect x="408" y="8" width="4" height="1" fill="#9ab4f0"/>
<rect x="407" y="5" width="1" height="1" fill="#ffffff"/>
<rect x="407" y="11" width="1" height="1" fill="#ffffff"/>
<rect x="412" y="11" width="1" height="1" fill="#ffffff"/>
<rect x="399" y="15" width="6" height="4" fill="#ffffff"/>
<rect x="400" y="16" width="4" height="1" fill="#9ab4f0"/>
<rect x="399" y="13" width="1" height="1" fill="#ffffff"/>
<rect x="399" y="19" width="1" height="1" fill="#ffffff"/>
<rect x="404" y="19" width="1" height="1" fill="#ffffff"/>
<rect x="407" y="15" width="6" height="4" fill="#ffffff"/>
<rect x="408" y="16" width="4" height="1" fill="#a8e08c"/>
<rect x="407" y="13" width="1" height="1" fill="#ffffff"/>
<rect x="407" y="19" width="1" height="1" fill="#ffffff"/>
<rect x="412" y="19" width="1" height="1" fill="#ffffff"/>
<rect x="423" y="1" width="1" height="21" fill="#a0a0a0"/>
<rect x="424" y="1" width="1" height="21" fill="#fbfbfb"/>
<rect x="428" y="0" width="26" height="23" fill="#f8f8f8"/>
<rect x="428" y="0" width="1" height="23" fill="#909090"/>
<rect x="428" y="0" width="26" height="1" fill="#909090"/>
<rect x="429" y="1" width="25" height="1" fill="#b8b8b8"/>
<rect x="453" y="1" width="1" height="22" fill="#ffffff"/>
<rect x="428" y="22" width="26" height="1" fill="#ffffff"/>
<rect x="436" y="6" width="1" height="14" fill="#505050"/>
<rect x="434" y="17" width="14" height="1" fill="#505050"/>
<rect x="435" y="7" width="3" height="1" fill="#505050"/>
<rect x="446" y="16" width="1" height="3" fill="#505050"/>
<g shape-rendering="geometricPrecision"><path d="M441.5 8.3 L445.3 11.5 L441.5 14.7 Z" fill="#4fe04f" stroke="#0a8a0a" stroke-width="1"/></g>
<rect x="456" y="0" width="26" height="23" fill="#f8f8f8"/>
<rect x="456" y="0" width="1" height="23" fill="#909090"/>
<rect x="456" y="0" width="26" height="1" fill="#909090"/>
<rect x="457" y="1" width="25" height="1" fill="#b8b8b8"/>
<rect x="481" y="1" width="1" height="22" fill="#ffffff"/>
<rect x="456" y="22" width="26" height="1" fill="#ffffff"/>
<rect x="464" y="6" width="1" height="14" fill="#505050"/>
<rect x="462" y="17" width="14" height="1" fill="#505050"/>
<rect x="463" y="7" width="3" height="1" fill="#505050"/>
<rect x="474" y="16" width="1" height="3" fill="#505050"/>
<rect x="470" y="6" width="1" height="10" fill="#1070b0"/>
<g shape-rendering="geometricPrecision"><path d="M471.5 11.5 L474.5 9 L474 11 L476.5 11 L476.5 12 L474 12 L474.5 14 Z" fill="#e05000" stroke="#e05000" stroke-width="0.5"/></g>
<rect x="485" y="1" width="1" height="21" fill="#a0a0a0"/>
<rect x="486" y="1" width="1" height="21" fill="#fbfbfb"/>
<g shape-rendering="geometricPrecision"><path d="M495.5 4.5h8l3 3v10h-11z" fill="#fff" stroke="#808080"/></g>
<g shape-rendering="geometricPrecision"><path d="M503.5 4.5v3h3" fill="#e8e8e8" stroke="#808080"/></g>
<g shape-rendering="geometricPrecision"><path d="M500.5 7.2 C498.5 7 498.8 9 498.7 11 V14.5 M497.6 10.5 H500.2" fill="none" stroke="#605840" stroke-width="1"/></g>
<rect x="499" y="14" width="12" height="4" fill="#0c8c0c"/>
<rect x="503" y="10" width="4" height="12" fill="#0c8c0c"/>
<rect x="500" y="15" width="10" height="2" fill="#2fe03a"/>
<rect x="504" y="11" width="2" height="10" fill="#2fe03a"/>
<rect x="500" y="15" width="10" height="1" fill="#8cf58c"/>
<rect x="504" y="11" width="1" height="10" fill="#8cf58c"/>
<rect x="517" y="11" width="5" height="1" fill="#000"/>
<rect x="518" y="12" width="3" height="1" fill="#000"/>
<rect x="519" y="13" width="1" height="1" fill="#000"/>
<g shape-rendering="geometricPrecision"><circle cx="541" cy="12" r="6.8" fill="#ffffff" stroke="#1272d8" stroke-width="2.6"/></g>
<g shape-rendering="geometricPrecision"><circle cx="541" cy="12" r="7.9" fill="none" stroke="#0a4fa8" stroke-width="0.6"/></g>
<g shape-rendering="geometricPrecision"><path d="M541 8 V12.3 H543.6" fill="none" stroke="#202020" stroke-width="1.2"/></g>
<rect x="540" y="15" width="2" height="1" fill="#6aa8f0"/>
<rect x="556" y="11" width="5" height="1" fill="#000"/>
<rect x="557" y="12" width="3" height="1" fill="#000"/>
<rect x="558" y="13" width="1" height="1" fill="#000"/>
<rect x="572" y="5" width="16" height="14" fill="#2f6fc0"/>
<rect x="573" y="5" width="14" height="3" fill="#5a9ae0"/>
<rect x="573" y="6" width="6" height="1" fill="#d0e4ff"/>
<rect x="573" y="8" width="14" height="5" fill="#ffffff"/>
<rect x="573" y="14" width="14" height="4" fill="#ffffff"/>
<g shape-rendering="geometricPrecision"><path d="M574 11.5 H576 L577.5 10 H579 L580.5 10.8 H582 L583.5 9.5 H586" fill="none" stroke="#a01800" stroke-width="1.2"/></g>
<g shape-rendering="geometricPrecision"><path d="M575 16.5 H576.5 L578 15.8 L579.5 16.6 L582 14.6 L583.5 15.2 L585.5 16.8" fill="none" stroke="#109020" stroke-width="1.2"/></g>
<rect x="595" y="11" width="5" height="1" fill="#000"/>
<rect x="596" y="12" width="3" height="1" fill="#000"/>
<rect x="597" y="13" width="1" height="1" fill="#000"/>
<rect x="606" y="0" width="1" height="24" fill="#808080"/>
<rect x="607" y="0" width="1" height="24" fill="#fbfbfb"/>
<rect x="610" y="2" width="3" height="1" fill="#909090"/>
<rect x="610" y="4" width="3" height="1" fill="#909090"/>
<rect x="610" y="6" width="3" height="1" fill="#909090"/>
<rect x="610" y="8" width="3" height="1" fill="#909090"/>
<rect x="610" y="10" width="3" height="1" fill="#909090"/>
<rect x="610" y="12" width="3" height="1" fill="#909090"/>
<rect x="610" y="14" width="3" height="1" fill="#909090"/>
<rect x="610" y="16" width="3" height="1" fill="#909090"/>
<rect x="610" y="18" width="3" height="1" fill="#909090"/>
<rect x="610" y="20" width="3" height="1" fill="#909090"/>
<rect x="616" y="0" width="26" height="23" fill="#f8f8f8"/>
<rect x="616" y="0" width="1" height="23" fill="#909090"/>
<rect x="616" y="0" width="26" height="1" fill="#909090"/>
<rect x="617" y="1" width="25" height="1" fill="#b8b8b8"/>
<rect x="641" y="1" width="1" height="22" fill="#ffffff"/>
<rect x="616" y="22" width="26" height="1" fill="#ffffff"/>
<g shape-rendering="geometricPrecision"><path d="M624 4.8 L624 16.2 L626.6 13.6 L629 19.2 L631.2 18.2 L628.8 13 L632.4 12.6 Z" fill="#505050"/></g>
<rect x="649" y="12" width="6" height="1" fill="#505050"/>
<rect x="658" y="12" width="6" height="1" fill="#505050"/>
<rect x="656" y="5" width="1" height="6" fill="#505050"/>
<rect x="656" y="14" width="1" height="6" fill="#505050"/>
<rect x="655" y="12" width="1" height="1" fill="#a0a0a0"/>
<rect x="657" y="12" width="1" height="1" fill="#a0a0a0"/>
<rect x="673" y="1" width="1" height="21" fill="#a0a0a0"/>
<rect x="674" y="1" width="1" height="21" fill="#fbfbfb"/>
<rect x="690" y="6" width="1" height="13" fill="#505050"/>
<rect x="713" y="12" width="12" height="1" fill="#505050"/>
<g shape-rendering="geometricPrecision"><path d="M740.6 18.8 L753.2 6.8" stroke="#505050" stroke-width="1.1"/></g>
<g shape-rendering="geometricPrecision"><path d="M766.8 13.8 L775 6.2 M768.4 18.4 L780.4 8.4 M772.5 19 L781 11.5" stroke="#505050" stroke-width="1" fill="none"/></g>
<g shape-rendering="geometricPrecision"><path d="M770.3 11 L769 18 M773.3 9 L772 16 M776.3 6.5 L775 13.5 M779 4.2 L779.4 11" stroke="#505050" stroke-width="1" fill="none"/></g>
<rect x="796" y="5" width="1" height="1" fill="#505050"/>
<rect x="798" y="5" width="1" height="1" fill="#505050"/>
<rect x="800" y="5" width="1" height="1" fill="#505050"/>
<rect x="802" y="5" width="1" height="1" fill="#505050"/>
<rect x="804" y="5" width="1" height="1" fill="#505050"/>
<rect x="806" y="5" width="1" height="1" fill="#505050"/>
<rect x="808" y="5" width="1" height="1" fill="#505050"/>
<rect x="796" y="8" width="1" height="1" fill="#505050"/>
<rect x="798" y="8" width="1" height="1" fill="#505050"/>
<rect x="800" y="8" width="1" height="1" fill="#505050"/>
<rect x="802" y="8" width="1" height="1" fill="#505050"/>
<rect x="804" y="8" width="1" height="1" fill="#505050"/>
<rect x="806" y="8" width="1" height="1" fill="#505050"/>
<rect x="808" y="8" width="1" height="1" fill="#505050"/>
<rect x="796" y="12" width="1" height="1" fill="#505050"/>
<rect x="798" y="12" width="1" height="1" fill="#505050"/>
<rect x="800" y="12" width="1" height="1" fill="#505050"/>
<rect x="802" y="12" width="1" height="1" fill="#505050"/>
<rect x="804" y="12" width="1" height="1" fill="#505050"/>
<rect x="806" y="12" width="1" height="1" fill="#505050"/>
<rect x="808" y="12" width="1" height="1" fill="#505050"/>
<rect x="796" y="16" width="1" height="1" fill="#505050"/>
<rect x="798" y="16" width="1" height="1" fill="#505050"/>
<rect x="800" y="16" width="1" height="1" fill="#505050"/>
<rect x="802" y="16" width="1" height="1" fill="#505050"/>
<rect x="804" y="16" width="1" height="1" fill="#505050"/>
<rect x="853" y="6" width="1" height="1" fill="#505050"/>
<rect x="853" y="18" width="1" height="1" fill="#505050"/>
<rect x="855" y="6" width="1" height="1" fill="#505050"/>
<rect x="855" y="18" width="1" height="1" fill="#505050"/>
<rect x="857" y="6" width="1" height="1" fill="#505050"/>
<rect x="857" y="18" width="1" height="1" fill="#505050"/>
<rect x="859" y="6" width="1" height="1" fill="#505050"/>
<rect x="859" y="18" width="1" height="1" fill="#505050"/>
<rect x="861" y="6" width="1" height="1" fill="#505050"/>
<rect x="861" y="18" width="1" height="1" fill="#505050"/>
<rect x="863" y="6" width="1" height="1" fill="#505050"/>
<rect x="863" y="18" width="1" height="1" fill="#505050"/>
<rect x="865" y="6" width="1" height="1" fill="#505050"/>
<rect x="865" y="18" width="1" height="1" fill="#505050"/>
<rect x="853" y="6" width="1" height="1" fill="#505050"/>
<rect x="865" y="6" width="1" height="1" fill="#505050"/>
<rect x="853" y="8" width="1" height="1" fill="#505050"/>
<rect x="865" y="8" width="1" height="1" fill="#505050"/>
<rect x="853" y="10" width="1" height="1" fill="#505050"/>
<rect x="865" y="10" width="1" height="1" fill="#505050"/>
<rect x="853" y="12" width="1" height="1" fill="#505050"/>
<rect x="865" y="12" width="1" height="1" fill="#505050"/>
<rect x="853" y="14" width="1" height="1" fill="#505050"/>
<rect x="865" y="14" width="1" height="1" fill="#505050"/>
<rect x="853" y="16" width="1" height="1" fill="#505050"/>
<rect x="865" y="16" width="1" height="1" fill="#505050"/>
<rect x="853" y="18" width="1" height="1" fill="#505050"/>
<rect x="865" y="18" width="1" height="1" fill="#505050"/>
<rect x="852" y="5" width="3" height="2" fill="#505050"/>
<rect x="856" y="9" width="7" height="2" fill="#505050"/>
<rect x="858" y="9" width="2" height="8" fill="#505050"/>
<g shape-rendering="geometricPrecision"><path d="M883.4 6 L886 8.6 L883.4 11 L880.8 8.6 Z M890.6 13.4 L893.4 16 L890.6 18.8 L888 16 Z" fill="#505050"/></g>
<g shape-rendering="geometricPrecision"><path d="M882.5 13 L884.8 15 L889 9.5" fill="none" stroke="#505050" stroke-width="1.3"/></g>
<rect x="901" y="11" width="5" height="1" fill="#000"/>
<rect x="902" y="12" width="3" height="1" fill="#000"/>
<rect x="903" y="13" width="1" height="1" fill="#000"/>
<rect x="912" y="0" width="1" height="24" fill="#808080"/>
<rect x="913" y="0" width="1" height="24" fill="#fbfbfb"/>
<rect x="916" y="2" width="3" height="1" fill="#909090"/>
<rect x="916" y="4" width="3" height="1" fill="#909090"/>
<rect x="916" y="6" width="3" height="1" fill="#909090"/>
<rect x="916" y="8" width="3" height="1" fill="#909090"/>
<rect x="916" y="10" width="3" height="1" fill="#909090"/>
<rect x="916" y="12" width="3" height="1" fill="#909090"/>
<rect x="916" y="14" width="3" height="1" fill="#909090"/>
<rect x="916" y="16" width="3" height="1" fill="#909090"/>
<rect x="916" y="18" width="3" height="1" fill="#909090"/>
<rect x="916" y="20" width="3" height="1" fill="#909090"/>
<rect x="1062" y="0" width="26" height="23" fill="#f8f8f8"/>
<rect x="1062" y="0" width="1" height="23" fill="#909090"/>
<rect x="1062" y="0" width="26" height="1" fill="#909090"/>
<rect x="1063" y="1" width="25" height="1" fill="#b8b8b8"/>
<rect x="1087" y="1" width="1" height="22" fill="#ffffff"/>
<rect x="1062" y="22" width="26" height="1" fill="#ffffff"/>
<rect x="1173" y="0" width="1" height="24" fill="#808080"/>
<rect x="1174" y="0" width="1" height="24" fill="#fbfbfb"/>
<g shape-rendering="geometricPrecision"><path d="M1641.2 12 L1636 16.6" stroke="#2456c8" stroke-width="2.2" stroke-linecap="round"/></g>
<g shape-rendering="geometricPrecision"><circle cx="1643.6" cy="9.5" r="3.7" fill="#f4f8ff" stroke="#2a5fd6" stroke-width="1.3"/></g>
<g shape-rendering="geometricPrecision"><path d="M1661 14 a5.5 4.5 0 0 1 9 -3 a5 4 0 0 1 -1 7.4 h-4.2 l-1.6 2 l-0.2 -2.2 a4.6 4 0 0 1 -2 -4.2 Z" fill="#e4e6ee" stroke="#a8a8b0" stroke-width="0.8"/></g>
<g shape-rendering="geometricPrecision"><circle cx="1674.5" cy="9.5" r="8" fill="#e03a1c"/></g>
<g shape-rendering="geometricPrecision"><path d="M1667.2 6.5 a8 8 0 0 1 14.6 0 Z" fill="#ea5a3a" opacity="0.7"/></g>
</svg>
<span class="t f9" style="top:39px;left:1647.7px;">1.37120</span>
<span class="t f9" style="top:72px;left:1647.7px;">1.36985</span>
<span class="t f9" style="top:105px;left:1647.7px;">1.36845</span>
<span class="t f9" style="top:138px;left:1647.7px;">1.36710</span>
<span class="t f9" style="top:171px;left:1647.7px;">1.36570</span>
<span class="t f9" style="top:204px;left:1647.7px;">1.36435</span>
<span class="t f9" style="top:237px;left:1647.7px;">1.36295</span>
<span class="t f9" style="top:270px;left:1647.7px;">1.36160</span>
<span class="t f9" style="top:303px;left:1647.7px;">1.36020</span>
<span class="t f9" style="top:336px;left:1647.7px;">1.35885</span>
<span class="t f9" style="top:369px;left:1647.7px;">1.35745</span>
<span class="t f9" style="top:402px;left:1647.7px;">1.35610</span>
<span class="t f9" style="top:435px;left:1647.7px;">1.35470</span>
<span class="t f9" style="top:468px;left:1647.7px;">1.35335</span>
<span class="t f9" style="top:501px;left:1647.7px;">1.35195</span>
<span class="t f9" style="top:534px;left:1647.7px;">1.35060</span>
<span class="t f9" style="top:567px;left:1647.7px;">1.34920</span>
<span class="t f9" style="top:601px;left:1647.7px;">1.34780</span>
<span class="box" style="top:225px;background:#ff0000"></span>
<span class="t f9" style="top:230px;left:1648px;color:#fff;">1.36320</span>
<span class="box" style="top:256px;background:#ff0000"></span>
<span class="t f9" style="top:261px;left:1648px;color:#fff;">1.36192</span>
<span class="box" style="top:308px;background:#ffa500"></span>
<span class="t f9" style="top:313px;left:1648px;color:#fff;">1.35975</span>
<span class="box" style="top:342px;background:#0000ff"></span>
<span class="t f9" style="top:347px;left:1648px;color:#fff;">1.35834</span>
<span class="box" style="top:375px;background:#0000ff"></span>
<span class="t f9" style="top:380px;left:1648px;color:#fff;">1.35697</span>
<span class="box" style="top:290px;background:#000"></span>
<span class="t f9" style="top:295px;left:1648px;color:#fff;">1.36055</span>
<span class="t f9" style="top:613px;left:1644.7px;">0.005474</span>
<span class="t f9" style="top:684px;left:1644.7px;">0.00</span>
<span class="t f9" style="top:724px;left:1644.6px;">-0.003289</span>
<span class="t f9" style="top:615px;left:9px;font-size:9.35px;">MACD(12,26,9) -0.001229 -0.002367</span>
<span class="t f9" style="top:740px;left:1644.5px;">100</span>
<span class="t f9" style="top:755px;left:1644px;">80</span>
<span class="t f9" style="top:786px;left:1643.6px;">50</span>
<span class="t f9" style="top:823px;left:1643.7px;">15</span>
<span class="t f9" style="top:832px;left:1644.7px;">0</span>
<span class="t f9" style="top:742px;left:9px;">RSI(14) 55.6992</span>
<span class="t f9" style="top:848px;left:4px;">8 Dec 2022</span>
<span class="t f9" style="top:848px;left:69px;">9 Dec 04:00</span>
<span class="t f9" style="top:848px;left:133px;">11 Dec 23:00</span>
<span class="t f9" style="top:848px;left:197px;">12 Dec 12:00</span>
<span class="t f9" style="top:848px;left:261px;">13 Dec 04:00</span>
<span class="t f9" style="top:848px;left:325px;">13 Dec 20:00</span>
<span class="t f9" style="top:848px;left:389px;">14 Dec 12:00</span>
<span class="t f9" style="top:848px;left:453px;">15 Dec 04:00</span>
<span class="t f9" style="top:848px;left:517px;">15 Dec 20:00</span>
<span class="t f9" style="top:848px;left:581px;">16 Dec 12:00</span>
<span class="t f9" style="top:848px;left:645px;">19 Dec 04:00</span>
<span class="t f9" style="top:848px;left:709px;">19 Dec 20:00</span>
<span class="t f9" style="top:848px;left:773px;">20 Dec 12:00</span>
<span class="t f9" style="top:848px;left:837px;">21 Dec 04:00</span>
<span class="t f9" style="top:848px;left:901px;">21 Dec 20:00</span>
<span class="t f9" style="top:848px;left:965px;">22 Dec 12:00</span>
<span class="t f9" style="top:848px;left:1029px;">23 Dec 04:00</span>
<span class="t f9" style="top:848px;left:1093px;">26 Dec 23:00</span>
<span class="t f9" style="top:848px;left:1157px;">27 Dec 12:00</span>
<span class="t f9" style="top:848px;left:1221px;">28 Dec 04:00</span>
<span class="t f9" style="top:848px;left:1285px;">28 Dec 20:00</span>
<span class="t f9" style="top:37px;left:20px;font-size:9.6px;">USDCAD-,H4</span>
<span class="t f9" style="top:36px;left:84.6px;">1.35936</span>
<span class="t f9" style="top:36px;left:120.7px;">1.36111</span>
<span class="t f9" style="top:36px;left:156.8px;">1.35933</span>
<span class="t f9" style="top:36px;left:192.9px;">1.36055</span>
<span class="t cj" style="top:10px;left:30.4px;">新订单</span>
<span class="t cj" style="top:10px;left:183px;">自动交易</span>
<span class="t ic" style="left:778px;top:18px;font-size:7px;font-weight:bold;color:#404040">E</span>
<span class="t ic" style="left:806px;top:18px;font-size:7px;font-weight:bold;color:#404040">F</span>
<span class="t ic" style="left:826px;top:12.5px;font-size:12.5px;color:#505050;-webkit-text-stroke:0.5px">A</span>
<span class="t f9 tf ctr" style="top:12px;left:834px;width:200px;text-align:center;">M1</span>
<span class="t f9 tf ctr" style="top:12px;left:862px;width:200px;text-align:center;">M5</span>
<span class="t f9 tf ctr" style="top:12px;left:890px;width:200px;text-align:center;">M15</span>
<span class="t f9 tf ctr" style="top:12px;left:918px;width:200px;text-align:center;">M30</span>
<span class="t f9 tf ctr" style="top:12px;left:946px;width:200px;text-align:center;">H1</span>
<span class="t f9 tf ctr" style="top:12px;left:974px;width:200px;text-align:center;">H4</span>
<span class="t f9 tf ctr" style="top:12px;left:1002px;width:200px;text-align:center;">D1</span>
<span class="t f9 tf ctr" style="top:12px;left:1030px;width:200px;text-align:center;">W1</span>
<span class="t f9 tf ctr" style="top:12px;left:1058px;width:200px;text-align:center;">MN</span>
<span class="t ic" style="left:1670.5px;top:9.5px;font-size:12.5px;color:#fff">1</span>
</body></html>
